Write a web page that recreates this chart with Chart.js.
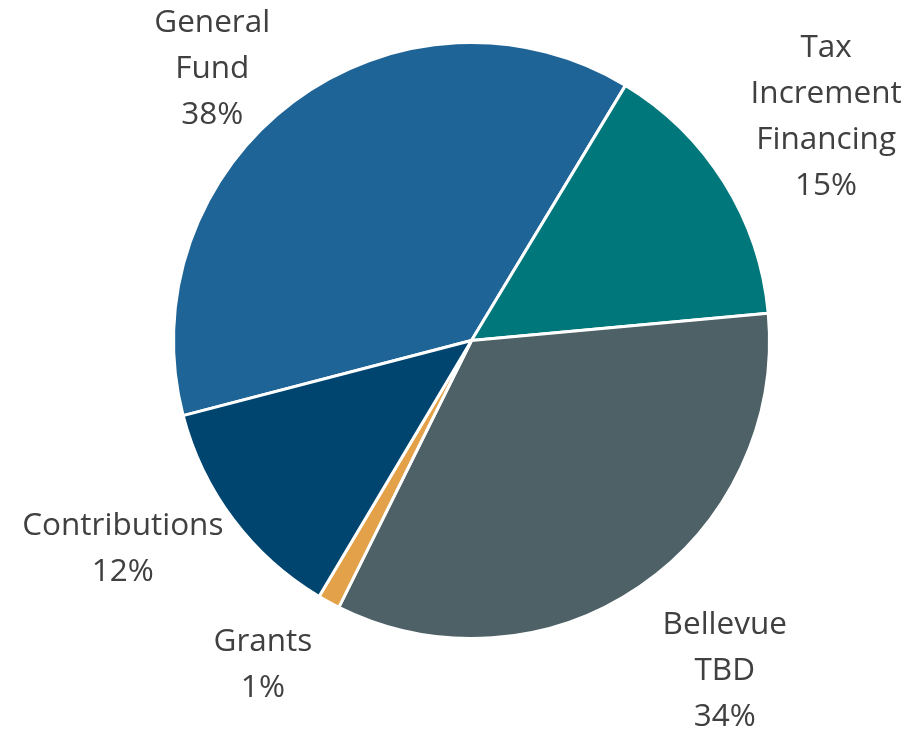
<!DOCTYPE html>
<html>
<head>
<meta charset="utf-8">
<script src="https://cdn.jsdelivr.net/npm/chart.js@4"></script>
<style>
  html, body { margin: 0; padding: 0; background: #fff; }
  #wrap { width: 910px; height: 730px; position: relative; }
</style>
</head>
<body>
<div id="wrap"><canvas id="fundingPie"></canvas></div>
<script>
// --- Data ---
const categories = ["General Fund", "Tax Increment Financing", "Bellevue TBD", "Grants", "Contributions"];
const shares = [37.7, 14.9, 33.8, 1.2, 12.4];
const labelLines = [
    ["General", "Fund"],
    ["Tax", "Increment", "Financing"],
    ["Bellevue", "TBD"],
    ["Grants"],
    ["Contributions"]
];
const pctLabels = ["38%", "15%", "34%", "1%", "12%"];

// --- Styling ---
const sliceColors = ['#1F6496', '#00777A', '#4D6166', '#E3A24A', '#004570'];
// label block centre, in pie radii from the centre (Excel-style outside labels)
const labelAnchor = [[-0.87, -0.91], [1.19, -0.75], [0.85, 1.11], [-0.70, 1.09], [-1.17, 0.70]];

const outsideLabels = {
    id: 'outsideLabels',
    afterDraw(chart) {
        const ctx = chart.ctx;
        const arc = chart.getDatasetMeta(0).data[0];
        const r = arc.outerRadius;
        const lineH = 46;
        ctx.save();
        ctx.fillStyle = '#404040';
        ctx.font = '31.5px "Open Sans", sans-serif';
        ctx.textAlign = 'center';
        ctx.textBaseline = 'middle';
        chart.getDatasetMeta(0).data.forEach((a, i) => {
            const lines = labelLines[i].concat([pctLabels[i]]);
            const cx = a.x + labelAnchor[i][0] * r;
            const cy = a.y + labelAnchor[i][1] * r;
            const top = cy - (lines.length - 1) * lineH / 2;
            lines.forEach((t, k) => ctx.fillText(t, cx, top + k * lineH));
        });
        ctx.restore();
    }
};

const ctx = document.getElementById('fundingPie').getContext('2d');
new Chart(ctx, {
    type: 'pie',
    data: {
        labels: categories,
        datasets: [{
            data: shares,
            backgroundColor: sliceColors,
            borderColor: '#FFFFFF',
            borderWidth: 3
        }]
    },
    options: {
        responsive: true,
        maintainAspectRatio: false,
        animation: false,
        rotation: 255.4,
        layout: { padding: { top: 41, bottom: 90, left: 172, right: 139 } },
        plugins: {
            legend: { display: false },
            tooltip: { enabled: false }
        }
    },
    plugins: [outsideLabels]
});
</script>
</body>
</html>
